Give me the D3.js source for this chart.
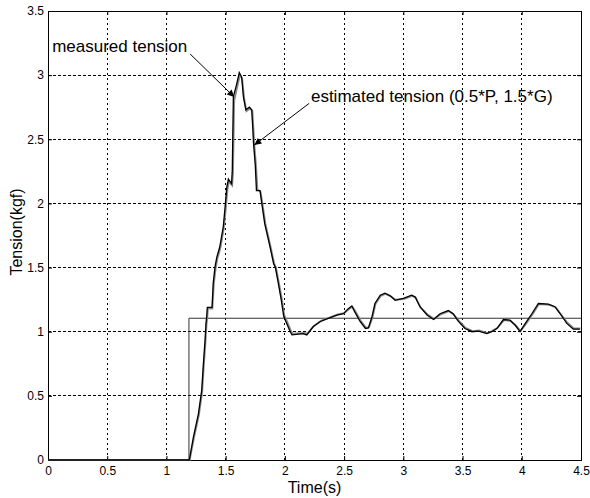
<!DOCTYPE html>
<html>
<head>
<meta charset="utf-8">
<script src="https://cdn.jsdelivr.net/npm/d3@7"></script>
<style>
  html, body { margin: 0; padding: 0; background: #fff; }
  svg { display: block; }
  text { font-family: "Liberation Sans", Arial, sans-serif; fill: #000; }
</style>
</head>
<body>
<svg id="chart" width="590" height="498"></svg>
<script>
// ---------- data ----------
const xTicks = [0, 0.5, 1, 1.5, 2, 2.5, 3, 3.5, 4, 4.5];
const xTickLabels = ["0", "0.5", "1", "1.5", "2", "2.5", "3", "3.5", "4", "4.5"];
const yTicks = [0, 0.5, 1, 1.5, 2, 2.5, 3, 3.5];
const yTickLabels = ["0", "0.5", "1", "1.5", "2", "2.5", "3", "3.5"];

// reference (set-point) tension: step
const refTime  = [0, 1.19, 1.19, 4.5];
const refValue = [0, 0, 1.105, 1.105];

// measured tension
const measTime = [0, 1.193, 1.228, 1.27, 1.298, 1.312, 1.326, 1.334, 1.34, 1.345, 1.385, 1.395, 1.41, 1.425, 1.45, 1.465, 1.48, 1.495, 1.51, 1.523, 1.55, 1.556, 1.565, 1.593, 1.615, 1.635, 1.65, 1.67, 1.70, 1.72, 1.73, 1.735, 1.75, 1.76, 1.79, 1.805, 1.83, 1.875, 1.905, 1.92, 1.945, 1.97, 1.99, 2.045, 2.06, 2.155, 2.185, 2.24, 2.30, 2.355, 2.44, 2.495, 2.535, 2.565, 2.59, 2.635, 2.68, 2.705, 2.735, 2.76, 2.805, 2.845, 2.89, 2.93, 3.0, 3.07, 3.10, 3.14, 3.20, 3.255, 3.31, 3.38, 3.42, 3.465, 3.52, 3.58, 3.635, 3.705, 3.745, 3.79, 3.845, 3.90, 3.945, 3.985, 4.03, 4.085, 4.14, 4.225, 4.28, 4.325, 4.38, 4.435, 4.49];
const measValue = [0, 0, 0.18, 0.36, 0.545, 0.75, 0.935, 1.065, 1.12, 1.19, 1.19, 1.38, 1.505, 1.58, 1.66, 1.74, 1.82, 1.97, 2.13, 2.19, 2.155, 2.26, 2.83, 2.93, 3.02, 2.985, 2.83, 2.73, 2.75, 2.73, 2.57, 2.47, 2.30, 2.10, 2.10, 2.0, 1.84, 1.66, 1.53, 1.50, 1.375, 1.245, 1.12, 1.0, 0.975, 0.985, 0.975, 1.04, 1.08, 1.10, 1.13, 1.14, 1.18, 1.20, 1.155, 1.08, 1.025, 1.03, 1.115, 1.22, 1.285, 1.30, 1.28, 1.245, 1.26, 1.285, 1.27, 1.195, 1.13, 1.095, 1.14, 1.165, 1.14, 1.08, 1.025, 1.0, 1.005, 0.985, 1.0, 1.025, 1.095, 1.09, 1.05, 1.0, 1.065, 1.14, 1.22, 1.215, 1.195, 1.14, 1.065, 1.02, 1.02];

// estimated tension (0.5*P, 1.5*G)
const estTime  = [0, 1.196, 1.232, 1.274, 1.302, 1.316, 1.33, 1.338, 1.345, 1.35, 1.388, 1.40, 1.415, 1.43, 1.455, 1.47, 1.485, 1.50, 1.515, 1.528, 1.555, 1.562, 1.572, 1.598, 1.62, 1.64, 1.656, 1.676, 1.705, 1.726, 1.736, 1.742, 1.757, 1.768, 1.795, 1.81, 1.836, 1.88, 1.91, 1.925, 1.95, 1.975, 1.995, 2.05, 2.066, 2.16, 2.19, 2.245, 2.305, 2.36, 2.445, 2.50, 2.54, 2.57, 2.595, 2.64, 2.685, 2.71, 2.74, 2.765, 2.81, 2.85, 2.895, 2.935, 3.005, 3.075, 3.105, 3.145, 3.205, 3.26, 3.315, 3.385, 3.425, 3.47, 3.525, 3.585, 3.64, 3.71, 3.75, 3.795, 3.85, 3.905, 3.95, 3.99, 4.035, 4.09, 4.145, 4.23, 4.285, 4.33, 4.385, 4.44, 4.495];
const estValue = [0, 0, 0.17, 0.35, 0.53, 0.74, 0.92, 1.05, 1.11, 1.18, 1.18, 1.37, 1.49, 1.57, 1.65, 1.73, 1.81, 1.95, 2.11, 2.17, 2.14, 2.24, 2.80, 2.91, 3.00, 2.97, 2.82, 2.72, 2.74, 2.72, 2.56, 2.46, 2.29, 2.11, 2.09, 2.0, 1.84, 1.66, 1.53, 1.50, 1.38, 1.25, 1.13, 1.01, 0.985, 0.99, 0.985, 1.045, 1.085, 1.105, 1.135, 1.145, 1.175, 1.195, 1.16, 1.085, 1.03, 1.035, 1.11, 1.215, 1.28, 1.295, 1.275, 1.25, 1.255, 1.28, 1.265, 1.19, 1.135, 1.10, 1.135, 1.16, 1.135, 1.085, 1.03, 1.005, 1.01, 0.99, 1.005, 1.03, 1.09, 1.085, 1.05, 1.005, 1.06, 1.135, 1.215, 1.21, 1.19, 1.135, 1.07, 1.025, 1.025];

// annotations: text anchor and arrow (start -> end), in data units
const annotTexts = ["measured tension", "estimated tension (0.5*P, 1.5*G)"];
const annotTextPos = [[0.035, 3.18], [2.22, 2.79]];
const annotArrows = [[1.20, 3.165, 1.572, 2.83], [2.205, 2.78, 1.742, 2.455]];

const xLabel = "Time(s)";
const yLabel = "Tension(kgf)";

// ---------- drawing ----------
const svg = d3.select("#chart");
const W = 590, H = 498;
const L = 48, R = 581, T = 11, B = 460;

const x = d3.scaleLinear().domain([0, 4.5]).range([L, R]);
const y = d3.scaleLinear().domain([0, 3.5]).range([B, T]);

svg.append("rect").attr("width", W).attr("height", H).attr("fill", "#fff");

const defs = svg.append("defs");
defs.append("marker")
  .attr("id", "arrow").attr("viewBox", "0 0 10 10")
  .attr("refX", 10).attr("refY", 5)
  .attr("markerWidth", 9).attr("markerHeight", 7)
  .attr("markerUnits", "userSpaceOnUse")
  .attr("orient", "auto")
  .append("path").attr("d", "M0,0 L10,5 L0,10 Z").attr("fill", "#000");

// grid
const grid = svg.append("g");
grid.selectAll("line.gx").data(xTicks.slice(1, -1)).enter().append("line")
  .attr("x1", d => x(d)).attr("x2", d => x(d))
  .attr("y1", B).attr("y2", T)
  .attr("stroke", "#000").attr("stroke-width", 1)
  .attr("stroke-dasharray", "2.5,2.5").attr("shape-rendering", "crispEdges");
grid.selectAll("line.gy").data(yTicks.slice(1, -1)).enter().append("line")
  .attr("y1", d => y(d)).attr("y2", d => y(d))
  .attr("x1", L).attr("x2", R)
  .attr("stroke", "#000").attr("stroke-width", 1)
  .attr("stroke-dasharray", "2.5,2.5").attr("shape-rendering", "crispEdges");

// axes (MATLAB style: inward ticks)
const xAxis = d3.axisBottom(x).tickValues(xTicks)
  .tickFormat((d, i) => xTickLabels[i]).tickSizeInner(-4).tickSizeOuter(0).tickPadding(6);
const yAxis = d3.axisLeft(y).tickValues(yTicks)
  .tickFormat((d, i) => yTickLabels[i]).tickSizeInner(-4).tickSizeOuter(0).tickPadding(4);

const gx = svg.append("g").attr("transform", `translate(0,${B})`).call(xAxis);
const gy = svg.append("g").attr("transform", `translate(${L},0)`).call(yAxis);
[gx, gy].forEach(g => {
  g.selectAll("path").remove();
  g.selectAll("line").attr("stroke", "#000");
  g.selectAll("text").attr("font-size", 12).attr("font-family", "Liberation Sans, Arial, sans-serif").attr("fill", "#000");
});
// top/right mirrored ticks
const gxt = svg.append("g").attr("transform", `translate(0,${T})`)
  .call(d3.axisTop(x).tickValues(xTicks).tickFormat("").tickSizeInner(-4).tickSizeOuter(0));
const gyr = svg.append("g").attr("transform", `translate(${R},0)`)
  .call(d3.axisRight(y).tickValues(yTicks).tickFormat("").tickSizeInner(-4).tickSizeOuter(0));
[gxt, gyr].forEach(g => { g.selectAll("path").remove(); g.selectAll("line").attr("stroke", "#000"); });

// box
svg.append("rect").attr("x", L).attr("y", T).attr("width", R - L).attr("height", B - T)
  .attr("fill", "none").attr("stroke", "#000").attr("stroke-width", 1).attr("shape-rendering", "crispEdges");

// lines
const line = d3.line().x(d => x(d[0])).y(d => y(d[1]));
const refData = refTime.map((t, i) => [t, refValue[i]]);
const measData = measTime.map((t, i) => [t, measValue[i]]);
const estData = estTime.map((t, i) => [t, estValue[i]]);

svg.append("path").datum(refData).attr("d", line)
  .attr("fill", "none").attr("stroke", "#333").attr("stroke-width", 1);
svg.append("path").datum(estData).attr("d", line)
  .attr("fill", "none").attr("stroke", "#8a8a8a").attr("stroke-width", 1.8);
svg.append("path").datum(measData).attr("d", line)
  .attr("fill", "none").attr("stroke", "#000").attr("stroke-width", 1.3);

// annotations
annotTexts.forEach((txt, i) => {
  svg.append("text").attr("x", x(annotTextPos[i][0])).attr("y", y(annotTextPos[i][1]))
    .attr("font-size", 17).text(txt);
  const a = annotArrows[i];
  svg.append("line")
    .attr("x1", x(a[0])).attr("y1", y(a[1]))
    .attr("x2", x(a[2])).attr("y2", y(a[3]))
    .attr("stroke", "#000").attr("stroke-width", 1)
    .attr("marker-end", "url(#arrow)");
});

// axis labels
svg.append("text").attr("x", (L + R) / 2).attr("y", 493)
  .attr("text-anchor", "middle").attr("font-size", 16).text(xLabel);
svg.append("text")
  .attr("transform", `translate(22,${232}) rotate(-90)`)
  .attr("text-anchor", "middle").attr("font-size", 16).text(yLabel);
</script>
</body>
</html>
